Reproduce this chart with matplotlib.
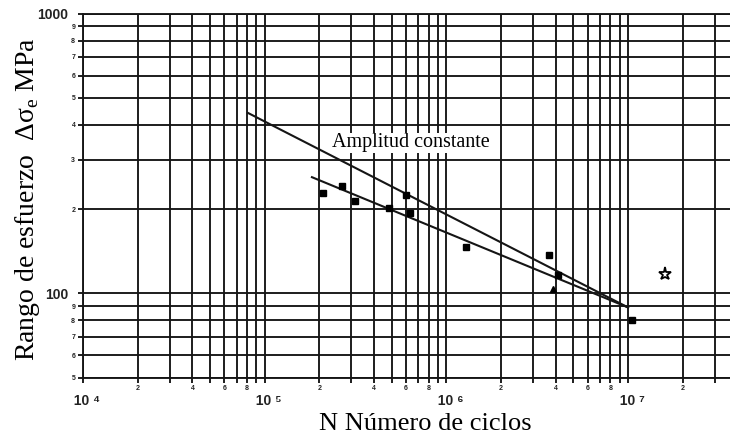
import matplotlib
matplotlib.use('Agg')
import math
import matplotlib.pyplot as plt
from matplotlib.ticker import LogLocator, FuncFormatter

# fatigue test results (cycles, stress range in MPa)
ciclos = [2.10e5, 2.65e5, 3.14e5, 4.85e5, 6.0e5, 6.3e5, 1.29e6, 3.68e6, 4.13e6, 1.05e7]
esfuerzo = [228, 242, 214, 201, 225, 194, 146, 137, 116, 80]
ciclos_tri = [3.88e6]
esfuerzo_tri = [104]
ciclos_star = [1.6e7]
esfuerzo_star = [117]

# design curves
amp_const_N = [8.1e4, 1.0e7]
amp_const_S = [441, 89]
ajuste_N = [1.82e5, 1.0e7]
ajuste_S = [260, 89]

serif = ['Liberation Serif', 'DejaVu Serif']
sans = ['Liberation Sans', 'DejaVu Sans']
ink = '#151515'

fig = plt.figure(figsize=(7.3, 4.4), dpi=100)
ax = fig.add_axes([83 / 730, 1 - 377.5 / 440, 1 - 83 / 730, (377.5 - 13.5) / 440])
ax.set_xscale('log')
ax.set_yscale('log')
ax.set_xlim(1e4, 3.64e7)
ax.set_ylim(50, 1000)

ax.xaxis.set_major_locator(LogLocator(base=10))
ax.xaxis.set_minor_locator(LogLocator(base=10, subs=range(2, 10), numticks=20))
ax.yaxis.set_major_locator(LogLocator(base=10))
ax.yaxis.set_minor_locator(LogLocator(base=10, subs=range(2, 10), numticks=20))

sup = {4: '⁴', 5: '⁵', 6: '⁶', 7: '⁷'}


def digit(v):
    return int(round(v / 10 ** math.floor(math.log10(v) + 1e-9)))


def x_major(v, pos):
    # leading spaces keep the "10" centred on its tick
    k = int(round(math.log10(v)))
    return '  10 ' + sup.get(k, str(k))


def x_minor(v, pos):
    d = digit(v)
    return str(d) if d in (2, 4, 6, 8) else ''


def y_major(v, pos):
    return '%d' % v


def y_minor(v, pos):
    return str(digit(v))


ax.xaxis.set_major_formatter(FuncFormatter(x_major))
ax.xaxis.set_minor_formatter(FuncFormatter(x_minor))
ax.yaxis.set_major_formatter(FuncFormatter(y_major))
ax.yaxis.set_minor_formatter(FuncFormatter(y_minor))

ax.grid(which='both', color=ink, linewidth=1.35)
ax.set_axisbelow(True)
ax.tick_params(which='both', direction='out', length=3.6, width=1.35, color=ink)
ax.tick_params(axis='x', which='major', pad=8, labelsize=10)
ax.tick_params(axis='x', which='minor', pad=2, labelsize=5)
ax.tick_params(axis='y', which='major', pad=7, labelsize=10)
ax.tick_params(axis='y', which='minor', pad=2, labelsize=5)
for lab in ax.get_xticklabels(which='both') + ax.get_yticklabels(which='both'):
    lab.set_fontfamily(sans)
    lab.set_fontweight('bold')
    lab.set_color('#222222')

for s in ax.spines.values():
    s.set_color(ink)
    s.set_linewidth(1.35)
ax.spines['right'].set_visible(False)

ax.plot(amp_const_N, amp_const_S, color=ink, lw=1.5, zorder=4)
ax.plot(ajuste_N, ajuste_S, color=ink, lw=1.5, zorder=4)

ax.plot(ciclos, esfuerzo, 's', color='black', markersize=4.8, zorder=5)
ax.plot(ciclos_tri, esfuerzo_tri, '^', color='black', markersize=5, zorder=5)
ax.plot(ciclos_star, esfuerzo_star, '*', markerfacecolor='white', markeredgecolor='black',
        markeredgewidth=1.3, markersize=9.5, zorder=5)

ax.text(2.34e5, 345, 'Amplitud constante', fontfamily=serif, fontsize=14.5,
        ha='left', va='center', zorder=3,
        bbox=dict(facecolor='white', edgecolor='none', pad=0.5))

fig.text(425 / 730, 1 - 424 / 440, 'N Número de ciclos', fontfamily=serif, fontsize=19,
         ha='center', va='center')
fig.text(28 / 730, 1 - 199 / 440, 'Rango de esfuerzo  Δσ$_\\mathregular{e}$ MPa',
         fontfamily=serif, fontsize=20, rotation=90, ha='center', va='center')

fig.savefig('out.png', dpi=100, facecolor='white')
